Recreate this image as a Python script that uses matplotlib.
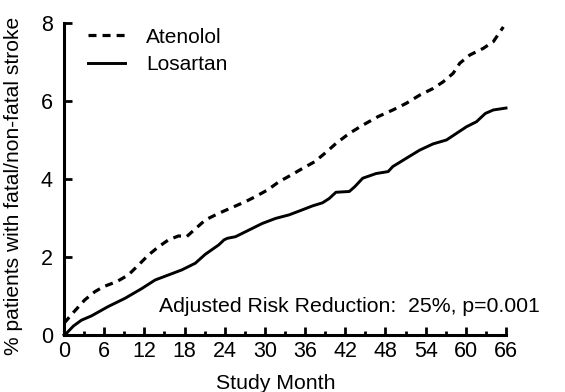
import matplotlib
matplotlib.use("Agg")
import matplotlib.pyplot as plt
from matplotlib.ticker import MultipleLocator

plt.rcParams["font.family"] = ["Liberation Sans", "DejaVu Sans"]

# values
aten_month = [0, 1.3, 3.1, 4.6, 5.9, 7.9, 9.6, 11.1, 12.6, 14.1, 15.6, 17.1, 18.3, 19.4,
              21.1, 23.1, 25.1, 27.1, 28.6, 30.4, 32.1, 33.9, 35.6, 37.4, 39.1, 40.6,
              42.6, 44.6, 46.9, 49.1, 51.1, 53.1, 55.1, 56.6, 58.1, 59.1, 60.6, 62.6,
              64.1, 65.6]
aten_pct = [0.30, 0.56, 0.90, 1.11, 1.24, 1.37, 1.54, 1.79, 2.05, 2.26, 2.44, 2.54, 2.52,
            2.69, 2.95, 3.12, 3.27, 3.42, 3.55, 3.72, 3.93, 4.10, 4.27, 4.44, 4.68, 4.91,
            5.17, 5.38, 5.60, 5.77, 5.94, 6.15, 6.32, 6.49, 6.71, 6.97, 7.18, 7.35, 7.52,
            7.90]

losa_month = [0, 0.4, 1.4, 2.6, 4.1, 6.6, 9.1, 11.6, 13.6, 15.6, 17.6, 19.6, 21.1, 23.1,
              23.9, 24.4, 25.6, 27.6, 29.6, 31.6, 33.6, 35.6, 37.1, 38.6, 39.6, 40.6,
              42.6, 43.4, 44.6, 46.6, 48.4, 49.1, 51.1, 53.1, 55.1, 57.1, 58.6, 60.1,
              61.6, 62.9, 64.1, 66.0]
losa_pct = [0.0, 0.05, 0.23, 0.38, 0.49, 0.73, 0.94, 1.19, 1.41, 1.54, 1.67, 1.84, 2.07,
            2.31, 2.44, 2.48, 2.52, 2.69, 2.86, 2.99, 3.08, 3.21, 3.31, 3.39, 3.50, 3.66,
            3.68, 3.80, 4.02, 4.14, 4.19, 4.32, 4.53, 4.74, 4.90, 5.00, 5.17, 5.34, 5.47,
            5.68, 5.77, 5.82]

x_ticks = list(range(0, 67, 6))
y_ticks = [0, 2, 4, 6, 8]

fig = plt.figure(figsize=(5.65, 3.92), dpi=100)
ax = fig.add_axes([0.1133, 0.1454, 0.7823, 0.7959])

ax.plot(aten_month, aten_pct, color="black", lw=2.3, ls=(0, (2.5, 1.9)),
        label="Atenolol", clip_on=False)
ax.plot(losa_month, losa_pct, color="black", lw=2.1, label="Losartan", clip_on=False)

ax.set_xlim(0, 66)
ax.set_ylim(0, 8)
ax.set_xticks(x_ticks)
ax.set_yticks(y_ticks)
ax.xaxis.set_minor_locator(MultipleLocator(3))

for side in ["top", "right"]:
    ax.spines[side].set_visible(False)
for side in ["left", "bottom"]:
    ax.spines[side].set_linewidth(2.2)

ax.tick_params(axis="both", which="major", direction="in", length=6, width=2,
               labelsize=15.5)
ax.tick_params(axis="y", which="major", pad=8)
ax.tick_params(axis="x", which="major", pad=4)
ax.tick_params(axis="x", which="minor", direction="in", length=3, width=2)

ax.set_xlabel("Study Month", fontsize=15.3)
ax.set_ylabel("% patients with fatal/non-fatal stroke", fontsize=15.1)
ax.xaxis.set_label_coords(0.48, -0.125, transform=ax.transAxes)
ax.yaxis.set_label_coords(-0.093, 0.478, transform=ax.transAxes)

ax.text(14.2, 0.74, "Adjusted Risk Reduction:  25%, p=0.001", fontsize=15.3,
        va="center", ha="left", clip_on=False)

leg = ax.legend(loc="upper left", bbox_to_anchor=(0.011, 1.045), frameon=False,
                fontsize=15, handlelength=1.8, handletextpad=1.0, labelspacing=0.4)

fig.savefig("out.png", dpi=100)
